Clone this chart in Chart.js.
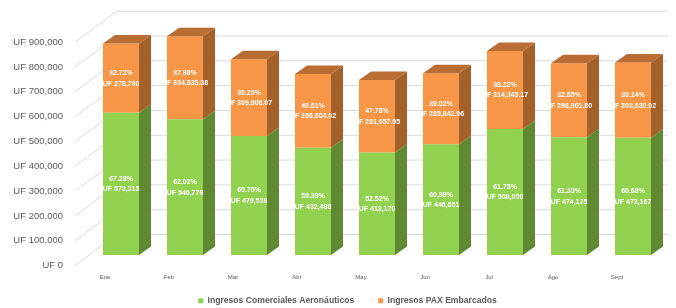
<!DOCTYPE html>
<html lang="es">
<head>
    <meta charset="UTF-8">
    <title>Ingresos</title>
    <script src="https://cdn.jsdelivr.net/npm/chart.js"></script>
    <style>
        html, body { margin: 0; padding: 0; background: #fff; }
        #wrap { width: 676px; height: 308px; }
    </style>
</head>
<body>

<div id="wrap"><canvas id="graficoIngresos"></canvas></div>

<script>
    const meses = ['Ene', 'Feb', 'Mar', 'Abr', 'May', 'Jun', 'Jul', 'Ago', 'Sept'];
    const comerciales = [573315, 546778, 479538, 432488, 413170, 446651, 508050, 474125, 472167];
    const pax = [278790, 334835.38, 309806.07, 296604.02, 291657.95, 285842.96, 314345.17, 298901.80, 303630.02];
    const pctComerciales = ['67.28%', '62.02%', '60.75%', '59.39%', '52.52%', '60,98%', '61.78%', '61.33%', '60.68%'];
    const pctPax = ['32.72%', '37.98%', '39.25%', '40.61%', '47.78%', '39.02%', '38.22%', '32.85%', '39.14%'];
    const ticksY = [0, 100000, 200000, 300000, 400000, 500000, 600000, 700000, 800000, 900000];

    const fmtUF = v => 'UF ' + v.toLocaleString('en-US', {
        minimumFractionDigits: v % 1 ? 2 : 0,
        maximumFractionDigits: 2
    });

    // profondeur de l'effet 3D
    const DX = 12, DY = -8.5;
    const lados = ['#5f8a32', '#a5612c'];
    const tapa = '#b96d33';
    const etiquetas = [pctComerciales, pctPax];

    const efecto3d = {
        id: 'efecto3d',
        afterLayout(chart) {
            // la leyenda va un poco más abajo y a la derecha, como en el original
            const lg = chart.legend;
            if (lg) {
                lg.left += 15; lg.right += 15;
                lg.top += 7; lg.bottom += 7;
            }
            // que no se recorten las etiquetas del eje x
            chart.scales.x.bottom = 300;
        },
        beforeDatasetsDraw(chart) {
            const ctx = chart.ctx;
            const y = chart.scales.y;
            ctx.save();
            ctx.strokeStyle = '#d9d9d9';
            ctx.lineWidth = 1;
            ticksY.forEach(v => {
                const py = y.getPixelForValue(v);
                ctx.beginPath();
                ctx.moveTo(75, py + 10.5);
                ctx.lineTo(117, py - 20.5);
                ctx.lineTo(668, py - 20.5);
                ctx.stroke();
            });
            ctx.restore();
        },
        afterDatasetsDraw(chart) {
            const ctx = chart.ctx;
            const n = chart.data.datasets.length;
            ctx.save();
            for (let d = 0; d < n; d++) {
                const meta = chart.getDatasetMeta(d);
                meta.data.forEach(el => {
                    const p = el.getProps(['x', 'y', 'base', 'width'], true);
                    const l = p.x - p.width / 2, r = p.x + p.width / 2;
                    ctx.fillStyle = lados[d];
                    ctx.beginPath();
                    ctx.moveTo(r, p.y);
                    ctx.lineTo(r + DX, p.y + DY);
                    ctx.lineTo(r + DX, p.base + DY);
                    ctx.lineTo(r, p.base);
                    ctx.closePath();
                    ctx.fill();
                    if (d === n - 1) {
                        ctx.fillStyle = tapa;
                        ctx.beginPath();
                        ctx.moveTo(l, p.y);
                        ctx.lineTo(l + DX, p.y + DY);
                        ctx.lineTo(r + DX, p.y + DY);
                        ctx.lineTo(r, p.y);
                        ctx.closePath();
                        ctx.fill();
                    }
                });
            }
            // etiquetas blancas centradas en cada segmento
            ctx.fillStyle = '#ffffff';
            ctx.font = 'bold 7px "Liberation Sans"';
            ctx.textAlign = 'center';
            ctx.textBaseline = 'middle';
            for (let d = 0; d < n; d++) {
                const meta = chart.getDatasetMeta(d);
                const valores = chart.data.datasets[d].data;
                meta.data.forEach((el, i) => {
                    const p = el.getProps(['x', 'y', 'base'], true);
                    const cy = (p.y + p.base) / 2;
                    ctx.fillText(etiquetas[d][i], p.x, cy - 5);
                    ctx.fillText(fmtUF(valores[i]), p.x, cy + 5.5);
                });
            }
            ctx.restore();
        }
    };

    const ctx = document.getElementById('graficoIngresos').getContext('2d');

    const chart = new Chart(ctx, {
        type: 'bar',
        data: {
            labels: meses,
            datasets: [{
                label: 'Ingresos Comerciales Aeronáuticos',
                data: comerciales,
                backgroundColor: '#92d050'
            }, {
                label: 'Ingresos PAX Embarcados',
                data: pax,
                backgroundColor: '#f79646'
            }]
        },
        options: {
            responsive: true,
            maintainAspectRatio: false,
            animation: false,
            events: [],
            categoryPercentage: 1,
            barPercentage: 0.5625,
            layout: {
                padding: { top: 25.5, right: 11, left: 0, bottom: 0 }
            },
            scales: {
                x: {
                    stacked: true,
                    grid: { display: false, drawTicks: false },
                    border: { display: false },
                    ticks: {
                        color: '#595959',
                        font: { family: 'Liberation Sans', size: 6 },
                        padding: 19,
                        labelOffset: -16,
                        maxRotation: 0
                    },
                    afterFit(scale) {
                        const lg = scale.chart.legend;
                        const h = lg ? lg.height : 28;
                        scale.height = 308 - 255 - h;
                    }
                },
                y: {
                    stacked: true,
                    min: 0,
                    max: 900000,
                    grid: { display: false, drawTicks: false },
                    border: { display: false },
                    ticks: {
                        stepSize: 100000,
                        color: '#595959',
                        font: { family: 'Liberation Sans', size: 9.5 },
                        padding: 26,
                        labelOffset: 10.5,
                        callback: v => fmtUF(v)
                    },
                    afterFit(scale) {
                        scale.width = 89;
                    }
                }
            },
            plugins: {
                legend: {
                    position: 'bottom',
                    labels: {
                        color: '#595959',
                        font: { family: 'Liberation Sans', size: 8.6, weight: 'bold' },
                        boxWidth: 5,
                        boxHeight: 5,
                        padding: 24
                    }
                },
                tooltip: { enabled: false }
            }
        },
        plugins: [efecto3d]
    });
</script>

</body>
</html>
